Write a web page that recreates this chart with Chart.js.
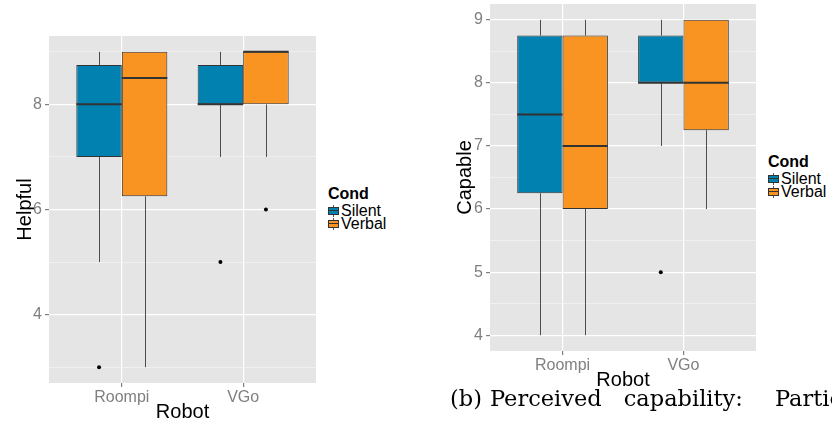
<!DOCTYPE html>
<html lang="en">
<head>
    <meta charset="UTF-8">
    <title>Helpful / Capable by Robot</title>
    <script src="https://cdn.jsdelivr.net/npm/chart.js"></script>
    <style>
        body { margin: 0; background: #fff; width: 832px; height: 425px; overflow: hidden; position: relative; font-family: "Liberation Sans", Arial, sans-serif; }
        canvas { position: absolute; }
        #helpfulChart { left: 0; top: 0; }
        #capableChart { left: 440px; top: 0; }
        .legend { position: absolute; font-size: 16px; line-height: 13.5px; color: #000; }
        .legend b { display: block; margin-bottom: 3px; }
        .legend div { white-space: nowrap; }
        .key { display: inline-block; width: 11px; height: 12px; position: relative; vertical-align: -1px; margin-right: 2px; }
        .key::before { content: ""; position: absolute; left: 5px; top: 0; bottom: 0; width: 1px; background: #555; }
        .key i { position: absolute; left: 0; top: 2px; width: 9px; height: 6px; border: 1px solid #333; }
        .key i::after { content: ""; position: absolute; left: 0; right: 0; top: 2px; height: 1px; background: #333; }
        #caption { position: absolute; left: 450px; top: 385px; font-family: "DejaVu Serif", serif; font-size: 22.5px; white-space: nowrap; color: #000; }
    </style>
</head>
<body>
    <canvas id="helpfulChart" width="320" height="425"></canvas>
    <canvas id="capableChart" width="320" height="393"></canvas>
    <div class="legend" id="legendA" style="left:328px; top:187px;"></div>
    <div class="legend" id="legendB" style="left:768px; top:155px;"></div>
    <div id="caption"><span style="margin-right:8px">(b)</span><span style="margin-right:22px">Perceived</span><span style="margin-right:32px">capability:</span><span>Partic</span></div>

    <script>
        const robots = ["Roompi", "VGo"];
        const conds = ["Silent", "Verbal"];
        const condColors = ["#0081AF", "#F99321"];

        // per robot: lower whisker, Q1, median, Q3, upper whisker
        const helpfulSilent = [[5, 7, 8, 8.75, 9], [7, 8, 8, 8.75, 9]];
        const helpfulVerbal = [[3, 6.25, 8.5, 9, 9], [7, 8, 9, 9, 9]];
        const helpfulSilentOut = [[3], [5]];
        const helpfulVerbalOut = [[], [6]];

        const capableSilent = [[4, 6.25, 7.5, 8.75, 9], [7, 8, 8, 8.75, 9]];
        const capableVerbal = [[4, 6, 7, 8.75, 9], [6, 7.25, 8, 9, 9]];
        const capableSilentOut = [[], [5]];
        const capableVerbalOut = [[], []];

        const helpfulTicks = [4, 6, 8];
        const helpfulGrid = [3, 4, 5, 6, 7, 8, 9];
        const capableTicks = [4, 5, 6, 7, 8, 9];
        const capableGrid = [4, 4.5, 5, 5.5, 6, 6.5, 7, 7.5, 8, 8.5, 9];

        // ggplot grey panel
        const panelBg = {
            id: "panelBg",
            beforeDraw(chart) {
                const a = chart.chartArea, ctx = chart.ctx;
                ctx.save();
                ctx.fillStyle = "#E5E5E5";
                ctx.fillRect(a.left, a.top, a.right - a.left, a.bottom - a.top);
                ctx.restore();
            }
        };

        // whiskers, medians and outliers placed on the bar elements
        const boxParts = {
            id: "boxParts",
            afterDatasetsDraw(chart) {
                const ctx = chart.ctx, y = chart.scales.y;
                chart.data.datasets.forEach((ds, di) => {
                    const meta = chart.getDatasetMeta(di);
                    meta.data.forEach((bar, i) => {
                        const s = ds.stats[i];
                        const half = bar.width / 2;
                        ctx.save();
                        ctx.strokeStyle = "#4d4d4d";
                        ctx.lineWidth = 1;
                        ctx.beginPath();
                        const cx = Math.round(bar.x) + 0.5;
                        if (s[4] > s[3]) { ctx.moveTo(cx, y.getPixelForValue(s[4])); ctx.lineTo(cx, y.getPixelForValue(s[3])); }
                        if (s[0] < s[1]) { ctx.moveTo(cx, y.getPixelForValue(s[1])); ctx.lineTo(cx, y.getPixelForValue(s[0])); }
                        ctx.stroke();
                        ctx.strokeStyle = "#333";
                        ctx.lineWidth = 2;
                        ctx.beginPath();
                        const my = y.getPixelForValue(s[2]);
                        ctx.moveTo(bar.x - half, my);
                        ctx.lineTo(bar.x + half, my);
                        ctx.stroke();
                        ctx.fillStyle = "#000";
                        ds.outliers[i].forEach(v => {
                            ctx.beginPath();
                            ctx.arc(bar.x, y.getPixelForValue(v), 2, 0, Math.PI * 2);
                            ctx.fill();
                        });
                        ctx.restore();
                    });
                });
            }
        };

        function makeChart(id, yTitle, series, outs, yMin, yMax, gridVals, labelVals, yWidth, padTop) {
            const ctx = document.getElementById(id).getContext("2d");
            return new Chart(ctx, {
                type: "bar",
                data: {
                    datasets: conds.map((c, k) => ({
                        label: c,
                        data: robots.map((r, i) => ({ x: i + 1, y: [series[k][i][1], series[k][i][3]] })),
                        stats: series[k],
                        outliers: outs[k],
                        backgroundColor: condColors[k],
                        borderColor: "#333",
                        borderWidth: 1,
                        borderSkipped: false,
                        barPercentage: 1,
                        categoryPercentage: 0.75
                    }))
                },
                options: {
                    responsive: false,
                    animation: false,
                    layout: { padding: { top: padTop, right: 4, left: 0, bottom: 0 } },
                    plugins: { legend: { display: false }, tooltip: { enabled: false } },
                    scales: {
                        x: {
                            type: "linear",
                            min: 0.4,
                            max: 2.6,
                            offset: false,
                            afterBuildTicks: s => { s.ticks = robots.map((r, i) => ({ value: i + 1 })); },
                            afterFit: s => { s.height = 42; s.paddingLeft = 0; s.paddingRight = 0; },
                            grid: { offset: false, color: "#fff", lineWidth: 1.2, tickLength: 4, tickColor: "#7F7F7F" },
                            border: { display: false },
                            ticks: {
                                autoSkip: false, maxRotation: 0, padding: 1,
                                color: "#7F7F7F", font: { family: "Liberation Sans", size: 16 },
                                callback: (v, i) => robots[i]
                            },
                            title: { display: true, text: "Robot", color: "#000", font: { family: "Liberation Sans", size: 20 }, padding: { top: 0, bottom: 1 } }
                        },
                        y: {
                            type: "linear",
                            min: yMin,
                            max: yMax,
                            afterBuildTicks: s => { s.ticks = gridVals.map(v => ({ value: v })); },
                            afterFit: s => { s.width = yWidth; s.paddingTop = 0; s.paddingBottom = 0; },
                            grid: {
                                color: c => labelVals.includes(c.tick.value) ? "#fff" : "#F2F2F2",
                                lineWidth: c => labelVals.includes(c.tick.value) ? 1.2 : 0.8,
                                tickLength: 4,
                                tickColor: c => labelVals.includes(c.tick.value) ? "#7F7F7F" : "rgba(0,0,0,0)"
                            },
                            border: { display: false },
                            ticks: {
                                autoSkip: false, padding: 3,
                                color: "#7F7F7F", font: { family: "Liberation Sans", size: 16 },
                                callback: v => labelVals.includes(v) ? String(v) : ""
                            },
                            title: { display: true, text: yTitle, color: "#000", font: { family: "Liberation Sans", size: 20 }, padding: { top: 13, bottom: 0 } }
                        }
                    }
                },
                plugins: [panelBg, boxParts]
            });
        }

        makeChart("helpfulChart", "Helpful", [helpfulSilent, helpfulVerbal], [helpfulSilentOut, helpfulVerbalOut], 2.7, 9.3, helpfulGrid, helpfulTicks, 49, 36);
        makeChart("capableChart", "Capable", [capableSilent, capableVerbal], [capableSilentOut, capableVerbalOut], 3.75, 9.25, capableGrid, capableTicks, 50, 4);

        function buildLegend(id) {
            const el = document.getElementById(id);
            let html = "<b>Cond</b>";
            conds.forEach((c, k) => {
                html += '<div><span class="key"><i style="background:' + condColors[k] + '"></i></span>' + c + "</div>";
            });
            el.innerHTML = html;
        }
        buildLegend("legendA");
        buildLegend("legendB");
    </script>
</body>
</html>
